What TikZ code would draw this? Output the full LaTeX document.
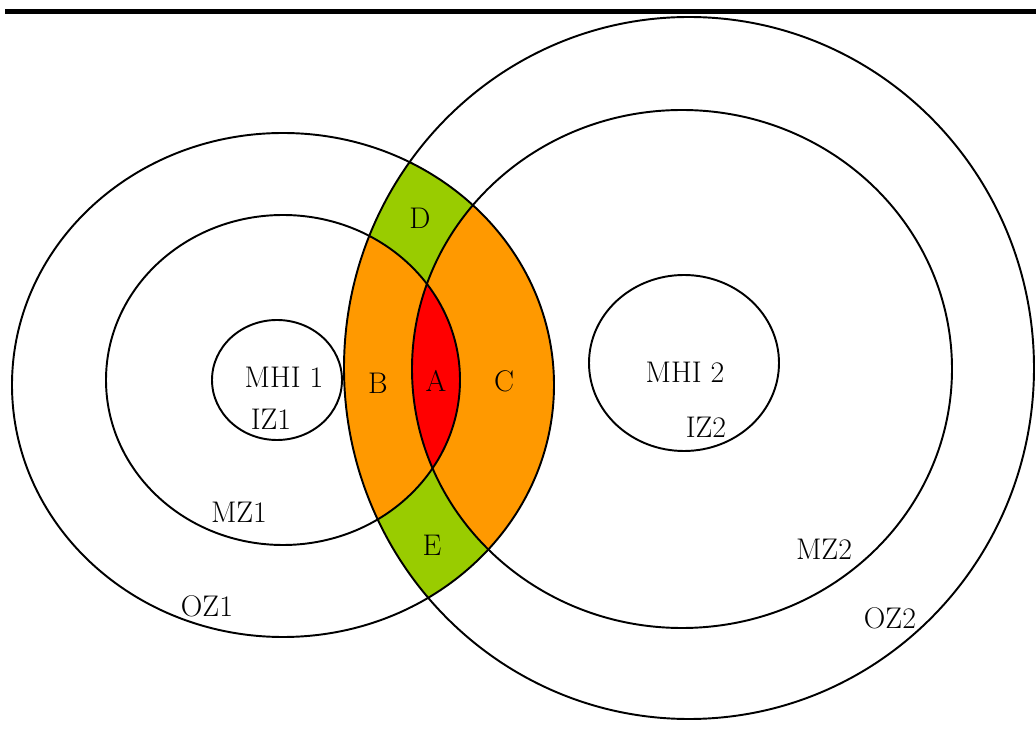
\documentclass[tikz,border=0pt]{standalone}
\usepackage{tikz}

\definecolor{zonegreen}{HTML}{99CC00}
\definecolor{zoneorange}{HTML}{FF9900}
\definecolor{zonered}{HTML}{FF0000}

\begin{document}
\begin{tikzpicture}[x=0.02cm,y=-0.02cm,
    zone/.style={draw=black,line width=1.1pt},
    lbl/.style={inner sep=0pt,font=\fontsize{17}{19}\selectfont}]
  \useasboundingbox (0,0) rectangle (1036,729);
  % rule along the top
  \fill[black] (5,9) rectangle (1036,14);
  % overlap of the two outer zones
  \begin{scope}
    \clip (283,385) ellipse (271 and 252);
    \clip (689,368) ellipse (345 and 351);
    \fill[zonegreen] (283,385) ellipse (271 and 252);
    \fill[zoneorange] (283,380) ellipse (177 and 165);
    \fill[zoneorange] (682,369) ellipse (270 and 259);
    \begin{scope}
      \clip (283,380) ellipse (177 and 165);
      \fill[zonered] (682,369) ellipse (270 and 259);
    \end{scope}
  \end{scope}
  % zones around MHI 1
  \draw[zone] (283,385) ellipse (271 and 252);
  \draw[zone] (283,380) ellipse (177 and 165);
  \draw[zone] (277,380) ellipse (65 and 60);
  % zones around MHI 2
  \draw[zone] (689,368) ellipse (345 and 351);
  \draw[zone] (682,369) ellipse (270 and 259);
  \draw[zone] (684,363) ellipse (95 and 88);
  % labels
  \node[lbl] (mhi1) at (284,377) {MHI 1};
  \node[lbl] (iz1) at (271,419) {IZ1};
  \node[lbl] (mz1) at (239,512) {MZ1};
  \node[lbl] (oz1) at (207,606) {OZ1};
  \node[lbl] (mhi2) at (685,372) {MHI 2};
  \node[lbl] (iz2) at (706,427) {IZ2};
  \node[lbl] (mz2) at (824,549) {MZ2};
  \node[lbl] (oz2) at (890,618) {OZ2};
  \node[lbl] (a) at (436,381) {A};
  \node[lbl] (b) at (378,383) {B};
  \node[lbl] (c) at (504,381) {C};
  \node[lbl] (d) at (420,218) {D};
  \node[lbl] (e) at (432,545) {E};
\end{tikzpicture}
\end{document}
